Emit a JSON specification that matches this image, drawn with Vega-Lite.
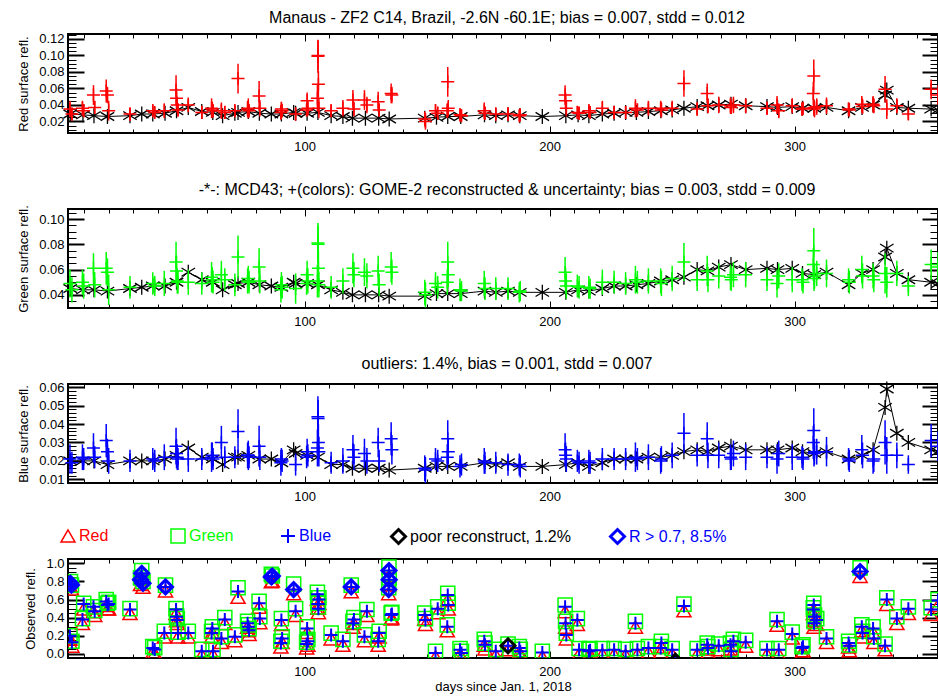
{
"$schema": "https://vega.github.io/schema/vega-lite/v6.json",
"background": "white",
"padding": {"left": 16, "top": 8, "right": 0, "bottom": 4},
"bounds": "flush",
"spacing": 76,
"resolve": {"scale": {"color": "independent", "shape": "independent"}, "legend": {"color": "independent", "shape": "independent"}},
"config": {
 "font": "Liberation Sans",
 "view": {"stroke": "black", "strokeWidth": 2},
 "axis": {"grid": false, "domain": false, "labelFont": "Liberation Sans", "labelFontSize": 13, "labelColor": "black", "titleFont": "Liberation Sans", "titleFontSize": 13, "titleFontWeight": "normal", "titleColor": "black", "tickColor": "black"},
 "legend": {"title": null, "orient": "none", "legendY": -31, "labelFontSize": 16, "labelFont": "Liberation Sans", "labelLimit": 400, "symbolSize": 196, "labelOffset": 3, "symbolStrokeWidth": 1.5},
 "title": {"font": "Liberation Sans", "fontSize": 16, "fontWeight": "normal", "color": "black", "offset": 7, "frame": "group", "dx": 4}
},
"datasets": {
 "mcd": [
{"d":4.3,"mr":0.029,"mg":0.045,"mb":0.020},{"d":9.5,"mr":0.028,"mg":0.044,"mb":0.020},{"d":14,"mr":0.027,"mg":0.044,"mb":0.020},{"d":19.5,"mr":0.026,"mg":0.043,"mb":0.018},{"d":28.7,"mr":0.027,"mg":0.045,"mb":0.020},{"d":33.5,"mr":0.029,"mg":0.046,"mb":0.020},{"d":38,"mr":0.029,"mg":0.047,"mb":0.020},{"d":43,"mr":0.030,"mg":0.047,"mb":0.021},{"d":47.7,"mr":0.033,"mg":0.050,"mb":0.023},{"d":52.5,"mr":0.037,"mg":0.058,"mb":0.027},{"d":58,"mr":0.032,"mg":0.052,"mb":0.022},{"d":62.5,"mr":0.031,"mg":0.050,"mb":0.021},{"d":66.5,"mr":0.027,"mg":0.044,"mb":0.018},{"d":71.5,"mr":0.030,"mg":0.048,"mb":0.022},{"d":72.8,"mr":0.031,"mg":0.049,"mb":0.022},{"d":77,"mr":0.032,"mg":0.050,"mb":0.023},{"d":81.5,"mr":0.030,"mg":0.048,"mb":0.021},{"d":86.4,"mr":0.029,"mg":0.047,"mb":0.021},{"d":90.5,"mr":0.029,"mg":0.046,"mb":0.019},{"d":95.5,"mr":0.031,"mg":0.050,"mb":0.026},{"d":96.3,"mr":0.030,"mg":0.049,"mb":0.024},{"d":101,"mr":0.030,"mg":0.049,"mb":0.023},{"d":105.4,"mr":0.031,"mg":0.048,"mb":0.022},{"d":110.8,"mr":0.027,"mg":0.044,"mb":0.018},{"d":115.6,"mr":0.026,"mg":0.042,"mb":0.018},{"d":119.5,"mr":0.024,"mg":0.040,"mb":0.016},{"d":124.8,"mr":0.024,"mg":0.040,"mb":0.016},{"d":130.2,"mr":0.024,"mg":0.040,"mb":0.016},{"d":134.5,"mr":0.023,"mg":0.039,"mb":0.015},{"d":149,"mr":0.024,"mg":0.039,"mb":0.016},{"d":153.8,"mr":0.025,"mg":0.041,"mb":0.017},{"d":158.4,"mr":0.026,"mg":0.041,"mb":0.017},{"d":163.7,"mr":0.026,"mg":0.041,"mb":0.017},{"d":173.4,"mr":0.028,"mg":0.043,"mb":0.019},{"d":178,"mr":0.027,"mg":0.042,"mb":0.018},{"d":183,"mr":0.028,"mg":0.043,"mb":0.019},{"d":187.8,"mr":0.027,"mg":0.042,"mb":0.017},{"d":197,"mr":0.026,"mg":0.042,"mb":0.017},{"d":206.6,"mr":0.027,"mg":0.042,"mb":0.018},{"d":211.6,"mr":0.028,"mg":0.044,"mb":0.019},{"d":216,"mr":0.027,"mg":0.043,"mb":0.017},{"d":221.5,"mr":0.029,"mg":0.045,"mb":0.019},{"d":226.3,"mr":0.030,"mg":0.047,"mb":0.021},{"d":231,"mr":0.031,"mg":0.047,"mb":0.021},{"d":235.4,"mr":0.031,"mg":0.048,"mb":0.021},{"d":240.3,"mr":0.032,"mg":0.049,"mb":0.022},{"d":245.4,"mr":0.033,"mg":0.051,"mb":0.022},{"d":250,"mr":0.034,"mg":0.052,"mb":0.023},{"d":254.8,"mr":0.036,"mg":0.054,"mb":0.025},{"d":260.2,"mr":0.038,"mg":0.060,"mb":0.026},{"d":264.4,"mr":0.039,"mg":0.059,"mb":0.025},{"d":269,"mr":0.040,"mg":0.062,"mb":0.027},{"d":274,"mr":0.041,"mg":0.064,"mb":0.028},{"d":280,"mr":0.039,"mg":0.060,"mb":0.026},{"d":288.7,"mr":0.038,"mg":0.061,"mb":0.026},{"d":293,"mr":0.037,"mg":0.060,"mb":0.026},{"d":299,"mr":0.038,"mg":0.061,"mb":0.027},{"d":303.2,"mr":0.036,"mg":0.057,"mb":0.025},{"d":308,"mr":0.036,"mg":0.056,"mb":0.024},{"d":313,"mr":0.037,"mg":0.058,"mb":0.025},{"d":322,"mr":0.033,"mg":0.048,"mb":0.021},{"d":327.5,"mr":0.037,"mg":0.057,"mb":0.023},{"d":332,"mr":0.040,"mg":0.060,"mb":0.026},{"d":336.9,"mr":0.052,"mg":0.070,"mb":0.049},{"d":337.6,"mr":0.058,"mg":0.077,"mb":0.059},{"d":341.7,"mr":0.037,"mg":0.057,"mb":0.035},{"d":346.4,"mr":0.036,"mg":0.052,"mb":0.030},{"d":355.7,"mr":0.035,"mg":0.050,"mb":0.026},{"d":358.5,"mr":0.034,"mg":0.049,"mb":0.025}
 ],
 "obs": [
{"d":4.2,"Red":0.2,"Green":0.2,"Blue":0.2,"r":0.035,"er":0.01,"g":0.049,"eg":0.011,"b":0.021,"eb":0.008},
{"d":5.0,"Red":0.12,"Green":0.14,"Blue":0.13,"r":0.029,"er":0.008,"g":0.044,"eg":0.01,"b":0.019,"eb":0.006},
{"d":4.4,"Red":0.78,"Green":0.8,"Blue":0.78,"f":"R"},
{"d":4.8,"Red":0.75,"Green":0.76,"Blue":0.76,"f":"R"},
{"d":9.3,"Red":0.37,"Green":0.39,"Blue":0.38,"r":0.036,"er":0.009,"g":0.05,"eg":0.01,"b":0.022,"eb":0.007},
{"d":9.8,"Red":0.53,"Green":0.56,"Blue":0.55,"r":0.033,"er":0.008,"g":0.047,"eg":0.01,"b":0.021,"eb":0.006},
{"d":13.8,"Red":0.5,"Green":0.52,"Blue":0.52,"r":0.052,"er":0.012,"g":0.061,"eg":0.012,"b":0.027,"eb":0.008},
{"d":14.3,"Red":0.46,"Green":0.48,"Blue":0.47,"r":0.037,"er":0.008,"g":0.048,"eg":0.01,"b":0.022,"eb":0.006},
{"d":19.0,"Red":0.57,"Green":0.6,"Blue":0.58,"r":0.057,"er":0.014,"g":0.061,"eg":0.013,"b":0.031,"eb":0.009},
{"d":19.5,"Red":0.53,"Green":0.56,"Blue":0.54,"r":0.052,"er":0.01,"g":0.058,"eg":0.011,"b":0.025,"eb":0.007},
{"d":20.0,"Red":0.53,"Green":0.57,"Blue":0.55,"r":0.033,"er":0.012,"g":0.044,"eg":0.012,"b":0.02,"eb":0.007},
{"d":28.7,"Red":0.48,"Green":0.5,"Blue":0.49,"r":0.029,"er":0.008,"g":0.046,"eg":0.009,"b":0.02,"eb":0.006},
{"d":33.0,"Red":0.8,"Green":0.84,"Blue":0.82,"f":"R"},
{"d":33.5,"Red":0.87,"Green":0.92,"Blue":0.89,"f":"R"},
{"d":34.0,"Red":0.77,"Green":0.8,"Blue":0.78,"f":"R"},
{"d":38.0,"Red":0.05,"Green":0.08,"Blue":0.065,"r":0.033,"er":0.008,"g":0.049,"eg":0.009,"b":0.021,"eb":0.006},
{"d":38.8,"Red":0.04,"Green":0.07,"Blue":0.05,"r":0.031,"er":0.007,"g":0.047,"eg":0.008,"b":0.02,"eb":0.006},
{"d":42.7,"Red":0.22,"Green":0.25,"Blue":0.23,"r":0.033,"er":0.009,"g":0.049,"eg":0.01,"b":0.022,"eb":0.007},
{"d":43.2,"Red":0.73,"Green":0.76,"Blue":0.74,"f":"R"},
{"d":47.5,"Red":0.48,"Green":0.5,"Blue":0.49,"r":0.058,"er":0.018,"g":0.066,"eg":0.016,"b":0.028,"eb":0.01},
{"d":47.7,"Red":0.4,"Green":0.42,"Blue":0.41,"r":0.048,"er":0.012,"g":0.059,"eg":0.012,"b":0.024,"eb":0.008},
{"d":48.0,"Red":0.37,"Green":0.39,"Blue":0.375,"r":0.04,"er":0.01,"g":0.051,"eg":0.01,"b":0.022,"eb":0.007},
{"d":48.3,"Red":0.22,"Green":0.24,"Blue":0.23,"r":0.034,"er":0.008,"g":0.05,"eg":0.009,"b":0.021,"eb":0.006},
{"d":52.5,"Red":0.22,"Green":0.25,"Blue":0.23,"r":0.04,"er":0.009,"g":0.05,"eg":0.01,"b":0.021,"eb":0.007},
{"d":58.0,"Red":0.02,"Green":0.05,"Blue":0.03,"r":0.031,"er":0.008,"g":0.049,"eg":0.009,"b":0.021,"eb":0.006},
{"d":62.0,"Red":0.22,"Green":0.25,"Blue":0.23,"r":0.036,"er":0.012,"g":0.054,"eg":0.012,"b":0.022,"eb":0.008},
{"d":62.3,"Red":0.27,"Green":0.3,"Blue":0.28,"r":0.035,"er":0.009,"g":0.052,"eg":0.01,"b":0.023,"eb":0.007},
{"d":62.6,"Red":0.02,"Green":0.05,"Blue":0.03,"r":0.033,"er":0.008,"g":0.05,"eg":0.009,"b":0.021,"eb":0.006},
{"d":66.0,"Red":0.16,"Green":0.19,"Blue":0.17,"r":0.033,"er":0.01,"g":0.056,"eg":0.011,"b":0.03,"eb":0.009},
{"d":67.4,"Red":0.37,"Green":0.4,"Blue":0.38,"r":0.031,"er":0.008,"g":0.052,"eg":0.009,"b":0.022,"eb":0.006},
{"d":71.5,"Red":0.18,"Green":0.21,"Blue":0.19,"r":0.033,"er":0.008,"g":0.048,"eg":0.009,"b":0.022,"eb":0.006},
{"d":72.8,"Red":0.66,"Green":0.73,"Blue":0.69,"r":0.072,"er":0.018,"g":0.07,"eg":0.017,"b":0.036,"eb":0.012},
{"d":76.7,"Red":0.33,"Green":0.36,"Blue":0.34,"r":0.035,"er":0.01,"g":0.051,"eg":0.01,"b":0.023,"eb":0.007},
{"d":77.0,"Red":0.29,"Green":0.32,"Blue":0.3,"r":0.036,"er":0.012,"g":0.053,"eg":0.01,"b":0.023,"eb":0.008},
{"d":77.3,"Red":0.25,"Green":0.28,"Blue":0.26,"r":0.033,"er":0.008,"g":0.05,"eg":0.009,"b":0.022,"eb":0.006},
{"d":81.4,"Red":0.55,"Green":0.58,"Blue":0.56,"r":0.051,"er":0.018,"g":0.062,"eg":0.015,"b":0.028,"eb":0.011},
{"d":81.7,"Red":0.38,"Green":0.41,"Blue":0.39,"r":0.036,"er":0.01,"g":0.051,"eg":0.01,"b":0.022,"eb":0.007},
{"d":86.4,"Red":0.83,"Green":0.88,"Blue":0.85,"f":"R"},
{"d":86.8,"Red":0.84,"Green":0.86,"Blue":0.86,"f":"R"},
{"d":90.3,"Red":0.11,"Green":0.14,"Blue":0.12,"r":0.031,"er":0.009,"g":0.044,"eg":0.01,"b":0.019,"eb":0.007},
{"d":90.5,"Red":0.36,"Green":0.39,"Blue":0.375,"r":0.035,"er":0.009,"g":0.048,"eg":0.01,"b":0.021,"eb":0.006},
{"d":90.8,"Red":0.16,"Green":0.19,"Blue":0.17,"r":0.033,"er":0.008,"g":0.046,"eg":0.009,"b":0.02,"eb":0.006},
{"d":95.5,"Red":0.7,"Green":0.77,"Blue":0.71,"f":"R"},
{"d":96.3,"Red":0.46,"Green":0.5,"Blue":0.47,"r":0.029,"er":0.008,"g":0.045,"eg":0.012,"b":0.018,"eb":0.006},
{"d":100.8,"Red":0.1,"Green":0.13,"Blue":0.11,"r":0.034,"er":0.008,"g":0.049,"eg":0.009,"b":0.022,"eb":0.006},
{"d":101.0,"Red":0.27,"Green":0.3,"Blue":0.28,"r":0.045,"er":0.01,"g":0.056,"eg":0.011,"b":0.025,"eb":0.007},
{"d":101.3,"Red":0.13,"Green":0.16,"Blue":0.14,"r":0.036,"er":0.009,"g":0.051,"eg":0.01,"b":0.023,"eb":0.006},
{"d":105.2,"Red":0.64,"Green":0.68,"Blue":0.66,"r":0.048,"er":0.016,"g":0.051,"eg":0.013,"b":0.027,"eb":0.01},
{"d":105.4,"Red":0.54,"Green":0.57,"Blue":0.55,"r":0.099,"er":0.02,"g":0.081,"eg":0.016,"b":0.044,"eb":0.011},
{"d":105.5,"Red":0.54,"Green":0.56,"Blue":0.55,"r":0.1,"er":0.018,"g":0.08,"eg":0.015,"b":0.043,"eb":0.01},
{"d":105.6,"Red":0.49,"Green":0.52,"Blue":0.5,"r":0.065,"er":0.016,"g":0.061,"eg":0.014,"b":0.03,"eb":0.01},
{"d":105.8,"Red":0.59,"Green":0.62,"Blue":0.6,"r":0.036,"er":0.012,"g":0.048,"eg":0.01,"b":0.025,"eb":0.008},
{"d":110.8,"Red":0.2,"Green":0.23,"Blue":0.21,"r":0.033,"er":0.008,"g":0.046,"eg":0.009,"b":0.019,"eb":0.006},
{"d":115.6,"Red":0.13,"Green":0.16,"Blue":0.14,"r":0.036,"er":0.01,"g":0.051,"eg":0.01,"b":0.02,"eb":0.007},
{"d":119.0,"Red":0.72,"Green":0.76,"Blue":0.74,"f":"R"},
{"d":119.7,"Red":0.33,"Green":0.36,"Blue":0.34,"r":0.046,"er":0.012,"g":0.061,"eg":0.012,"b":0.026,"eb":0.008},
{"d":120.1,"Red":0.37,"Green":0.4,"Blue":0.38,"r":0.035,"er":0.009,"g":0.056,"eg":0.01,"b":0.022,"eb":0.007},
{"d":124.4,"Red":0.18,"Green":0.21,"Blue":0.19,"r":0.046,"er":0.012,"g":0.058,"eg":0.011,"b":0.024,"eb":0.008},
{"d":125.4,"Red":0.46,"Green":0.49,"Blue":0.47,"r":0.04,"er":0.01,"g":0.055,"eg":0.01,"b":0.02,"eb":0.007},
{"d":130.0,"Red":0.13,"Green":0.16,"Blue":0.14,"r":0.044,"er":0.012,"g":0.059,"eg":0.012,"b":0.03,"eb":0.008},
{"d":130.4,"Red":0.22,"Green":0.25,"Blue":0.23,"r":0.034,"er":0.008,"g":0.048,"eg":0.009,"b":0.02,"eb":0.006},
{"d":134.3,"Red":0.7,"Green":0.73,"Blue":0.71,"f":"R"},
{"d":134.4,"Red":0.9,"Green":0.96,"Blue":0.92,"f":"R"},
{"d":134.5,"Red":0.8,"Green":0.84,"Blue":0.82,"f":"R"},
{"d":135.3,"Red":0.42,"Green":0.45,"Blue":0.43,"r":0.054,"er":0.012,"g":0.062,"eg":0.012,"b":0.032,"eb":0.009},
{"d":135.6,"Red":0.43,"Green":0.46,"Blue":0.44,"r":0.052,"er":0.01,"g":0.058,"eg":0.01,"b":0.026,"eb":0.008},
{"d":149.0,"Red":0.42,"Green":0.45,"Blue":0.43,"r":0.023,"er":0.009,"g":0.042,"eg":0.01,"b":0.016,"eb":0.007},
{"d":149.3,"Red":0.36,"Green":0.39,"Blue":0.375,"r":0.02,"er":0.01,"g":0.04,"eg":0.01,"b":0.015,"eb":0.007},
{"d":153.4,"Red":0.0,"Green":0.03,"Blue":0.01,"r":0.033,"er":0.008,"g":0.049,"eg":0.009,"b":0.021,"eb":0.006},
{"d":154.3,"Red":0.49,"Green":0.52,"Blue":0.5,"r":0.03,"er":0.008,"g":0.046,"eg":0.009,"b":0.02,"eb":0.006},
{"d":158.2,"Red":0.29,"Green":0.32,"Blue":0.3,"r":0.033,"er":0.009,"g":0.05,"eg":0.01,"b":0.022,"eb":0.007},
{"d":158.4,"Red":0.63,"Green":0.67,"Blue":0.65,"r":0.068,"er":0.018,"g":0.066,"eg":0.016,"b":0.032,"eb":0.01},
{"d":158.6,"Red":0.53,"Green":0.56,"Blue":0.54,"r":0.036,"er":0.01,"g":0.056,"eg":0.01,"b":0.025,"eb":0.007},
{"d":163.4,"Red":0.03,"Green":0.06,"Blue":0.045,"r":0.028,"er":0.008,"g":0.044,"eg":0.009,"b":0.017,"eb":0.006},
{"d":164.0,"Red":0.0,"Green":0.03,"Blue":0.01,"r":0.027,"er":0.007,"g":0.043,"eg":0.008,"b":0.018,"eb":0.006},
{"d":173.3,"Red":0.13,"Green":0.16,"Blue":0.14,"r":0.033,"er":0.01,"g":0.049,"eg":0.01,"b":0.02,"eb":0.007},
{"d":173.6,"Red":0.09,"Green":0.12,"Blue":0.1,"r":0.03,"er":0.008,"g":0.045,"eg":0.009,"b":0.019,"eb":0.006},
{"d":178.0,"Red":0.02,"Green":0.05,"Blue":0.03,"r":0.029,"er":0.008,"g":0.045,"eg":0.009,"b":0.019,"eb":0.006},
{"d":183.0,"Red":0.08,"Green":0.11,"Blue":0.09,"f":"P","r":0.029,"er":0.008,"g":0.045,"eg":0.009,"b":0.018,"eb":0.006},
{"d":187.6,"Red":0.05,"Green":0.08,"Blue":0.065,"r":0.027,"er":0.007,"g":0.042,"eg":0.008,"b":0.018,"eb":0.006},
{"d":188.0,"Red":0.02,"Green":0.05,"Blue":0.03,"r":0.028,"er":0.007,"g":0.043,"eg":0.008,"b":0.017,"eb":0.006},
{"d":197.0,"Red":0.0,"Green":0.03,"Blue":0.015},
{"d":206.3,"Red":0.5,"Green":0.54,"Blue":0.52,"r":0.052,"er":0.012,"g":0.058,"eg":0.012,"b":0.026,"eb":0.009},
{"d":206.5,"Red":0.33,"Green":0.36,"Blue":0.34,"r":0.045,"er":0.01,"g":0.051,"eg":0.01,"b":0.023,"eb":0.007},
{"d":206.8,"Red":0.2,"Green":0.23,"Blue":0.21,"r":0.036,"er":0.01,"g":0.047,"eg":0.01,"b":0.021,"eb":0.007},
{"d":211.3,"Red":0.36,"Green":0.39,"Blue":0.375,"r":0.031,"er":0.008,"g":0.047,"eg":0.009,"b":0.02,"eb":0.006},
{"d":212.0,"Red":0.03,"Green":0.06,"Blue":0.045,"r":0.03,"er":0.008,"g":0.046,"eg":0.009,"b":0.019,"eb":0.006},
{"d":216.0,"Red":0.02,"Green":0.05,"Blue":0.03,"r":0.033,"er":0.008,"g":0.046,"eg":0.009,"b":0.02,"eb":0.006},
{"d":216.5,"Red":0.03,"Green":0.06,"Blue":0.04,"r":0.031,"er":0.007,"g":0.045,"eg":0.008,"b":0.019,"eb":0.006},
{"d":221.5,"Red":0.03,"Green":0.06,"Blue":0.04,"r":0.036,"er":0.009,"g":0.05,"eg":0.01,"b":0.021,"eb":0.006},
{"d":226.3,"Red":0.03,"Green":0.06,"Blue":0.045,"r":0.031,"er":0.008,"g":0.05,"eg":0.009,"b":0.021,"eb":0.006},
{"d":231.0,"Red":0.02,"Green":0.05,"Blue":0.03,"r":0.031,"er":0.008,"g":0.049,"eg":0.009,"b":0.021,"eb":0.006},
{"d":235.0,"Red":0.33,"Green":0.36,"Blue":0.34,"r":0.036,"er":0.011,"g":0.052,"eg":0.011,"b":0.022,"eb":0.008},
{"d":235.8,"Red":0.03,"Green":0.06,"Blue":0.045,"r":0.034,"er":0.008,"g":0.05,"eg":0.009,"b":0.021,"eb":0.006},
{"d":240.3,"Red":0.05,"Green":0.08,"Blue":0.065,"r":0.036,"er":0.009,"g":0.051,"eg":0.01,"b":0.022,"eb":0.007},
{"d":245.3,"Red":0.05,"Green":0.08,"Blue":0.065,"r":0.036,"er":0.009,"g":0.051,"eg":0.01,"b":0.02,"eb":0.007},
{"d":245.6,"Red":0.11,"Green":0.14,"Blue":0.12,"r":0.034,"er":0.009,"g":0.049,"eg":0.01,"b":0.021,"eb":0.007},
{"d":250.0,"Red":0.03,"Green":0.06,"Blue":0.045,"r":0.036,"er":0.009,"g":0.053,"eg":0.01,"b":0.023,"eb":0.007},
{"d":251.3,"Blue":-0.08,"f":"P"},
{"d":254.8,"Red":0.51,"Green":0.55,"Blue":0.53,"r":0.066,"er":0.016,"g":0.066,"eg":0.015,"b":0.035,"eb":0.011},
{"d":260.2,"Red":0.03,"Green":0.06,"Blue":0.045,"r":0.035,"er":0.008,"g":0.052,"eg":0.009,"b":0.023,"eb":0.006},
{"d":264.3,"Red":0.09,"Green":0.12,"Blue":0.1,"r":0.054,"er":0.012,"g":0.059,"eg":0.012,"b":0.032,"eb":0.009},
{"d":264.6,"Red":0.05,"Green":0.08,"Blue":0.065,"r":0.039,"er":0.009,"g":0.052,"eg":0.01,"b":0.023,"eb":0.007},
{"d":269.0,"Red":0.08,"Green":0.11,"Blue":0.09,"r":0.04,"er":0.01,"g":0.055,"eg":0.01,"b":0.023,"eb":0.007},
{"d":273.8,"Red":0.09,"Green":0.12,"Blue":0.1,"r":0.039,"er":0.01,"g":0.054,"eg":0.01,"b":0.022,"eb":0.007},
{"d":274.1,"Red":0.02,"Green":0.05,"Blue":0.03,"r":0.037,"er":0.008,"g":0.052,"eg":0.009,"b":0.021,"eb":0.006},
{"d":275.0,"Red":0.13,"Green":0.16,"Blue":0.14,"r":0.04,"er":0.01,"g":0.056,"eg":0.01,"b":0.024,"eb":0.007},
{"d":280.0,"Red":0.12,"Green":0.15,"Blue":0.13,"r":0.039,"er":0.009,"g":0.056,"eg":0.01,"b":0.022,"eb":0.007},
{"d":288.7,"Red":0.03,"Green":0.06,"Blue":0.045,"r":0.036,"er":0.008,"g":0.052,"eg":0.009,"b":0.022,"eb":0.006},
{"d":292.8,"Red":0.35,"Green":0.38,"Blue":0.36,"r":0.04,"er":0.011,"g":0.049,"eg":0.011,"b":0.021,"eb":0.008},
{"d":293.5,"Red":0.03,"Green":0.06,"Blue":0.045,"r":0.033,"er":0.009,"g":0.055,"eg":0.01,"b":0.024,"eb":0.007},
{"d":299.0,"Red":0.21,"Green":0.24,"Blue":0.22,"r":0.039,"er":0.009,"g":0.052,"eg":0.01,"b":0.022,"eb":0.007},
{"d":303.0,"Red":0.05,"Green":0.08,"Blue":0.065,"r":0.035,"er":0.008,"g":0.052,"eg":0.009,"b":0.022,"eb":0.006},
{"d":303.4,"Red":0.07,"Green":0.1,"Blue":0.08,"r":0.036,"er":0.008,"g":0.05,"eg":0.009,"b":0.021,"eb":0.006},
{"d":307.6,"Red":0.48,"Green":0.51,"Blue":0.49,"r":0.054,"er":0.014,"g":0.064,"eg":0.013,"b":0.03,"eb":0.009},
{"d":307.8,"Red":0.52,"Green":0.56,"Blue":0.54,"r":0.075,"er":0.02,"g":0.075,"eg":0.018,"b":0.0365,"eb":0.012},
{"d":307.9,"Red":0.33,"Green":0.36,"Blue":0.34,"r":0.037,"er":0.01,"g":0.053,"eg":0.01,"b":0.024,"eb":0.007},
{"d":308.1,"Red":0.4,"Green":0.43,"Blue":0.41,"r":0.035,"er":0.01,"g":0.055,"eg":0.01,"b":0.025,"eb":0.007},
{"d":309.0,"Red":0.36,"Green":0.39,"Blue":0.375,"r":0.038,"er":0.01,"g":0.057,"eg":0.01,"b":0.025,"eb":0.007},
{"d":313.0,"Red":0.16,"Green":0.19,"Blue":0.17,"r":0.039,"er":0.01,"g":0.057,"eg":0.011,"b":0.025,"eb":0.008},
{"d":322.0,"Red":0.11,"Green":0.14,"Blue":0.12,"r":0.035,"er":0.008,"g":0.052,"eg":0.009,"b":0.021,"eb":0.006},
{"d":322.3,"Red":0.07,"Green":0.1,"Blue":0.09,"r":0.034,"er":0.008,"g":0.05,"eg":0.009,"b":0.02,"eb":0.006},
{"d":326.7,"Red":0.89,"Green":0.95,"Blue":0.91,"f":"R"},
{"d":327.4,"Red":0.29,"Green":0.32,"Blue":0.3,"r":0.041,"er":0.01,"g":0.06,"eg":0.011,"b":0.026,"eb":0.008},
{"d":327.7,"Red":0.22,"Green":0.25,"Blue":0.23,"r":0.038,"er":0.009,"g":0.055,"eg":0.01,"b":0.023,"eb":0.007},
{"d":332.0,"Red":0.27,"Green":0.3,"Blue":0.28,"r":0.041,"er":0.01,"g":0.055,"eg":0.01,"b":0.02,"eb":0.007},
{"d":332.3,"Red":0.16,"Green":0.19,"Blue":0.17,"r":0.039,"er":0.009,"g":0.052,"eg":0.01,"b":0.021,"eb":0.007},
{"d":336.9,"Red":0.08,"Green":0.11,"Blue":0.09,"r":0.059,"er":0.016,"g":0.057,"eg":0.016,"b":0.03,"eb":0.012},
{"d":337.6,"Red":0.58,"Green":0.62,"Blue":0.6,"r":0.035,"er":0.012,"g":0.05,"eg":0.012,"b":0.023,"eb":0.01},
{"d":341.7,"Red":0.37,"Green":0.41,"Blue":0.39,"r":0.039,"er":0.009,"g":0.057,"eg":0.01,"b":0.023,"eb":0.007},
{"d":346.4,"Red":0.48,"Green":0.52,"Blue":0.5,"r":0.029,"er":0.007,"g":0.047,"eg":0.008,"b":0.018,"eb":0.005},
{"d":355.7,"Red":0.47,"Green":0.51,"Blue":0.49,"r":0.059,"er":0.012,"g":0.064,"eg":0.012,"b":0.031,"eb":0.009},
{"d":358.5,"Red":0.57,"Green":0.6,"Blue":0.59,"r":0.052,"er":0.012,"g":0.062,"eg":0.012,"b":0.028,"eb":0.008}
 ]
},
"vconcat": [
{
 "width": 870, "height": 99,
 "title": {"text": "Manaus - ZF2 C14, Brazil,  -2.6N  -60.1E; bias =  0.007, stdd =  0.012"},
 "resolve": {"axis": {"x": "independent", "y": "independent"}},
 "layer": [
  {"data": {"name": "mcd"}, "mark": {"type": "line", "color": "black", "strokeWidth": 1},
   "encoding": {
    "x": {"field": "d", "type": "quantitative", "scale": {"domain": [3.4, 358.5], "nice": false, "zero": false}, "axis": {"orient": "bottom", "values": [100, 200, 300], "ticks": false, "labelPadding": 7, "title": null, "format": "d"}},
    "y": {"field": "mr", "type": "quantitative", "scale": {"domain": [0.006, 0.126], "nice": false, "zero": false}, "axis": {"orient": "left", "values": [0.02, 0.04, 0.06, 0.08, 0.1, 0.12], "format": ".2f", "ticks": false, "labelPadding": 4, "title": "Red surface refl.", "titlePadding": 8}}}},
  {"data": {"name": "mcd"}, "mark": {"type": "point", "shape": "M0,-1L0,1M-0.9,-0.55L0.9,0.55M-0.9,0.55L0.9,-0.55", "filled": false, "stroke": "black", "strokeWidth": 1.3, "size": 225, "opacity": 1},
   "encoding": {
    "x": {"field": "d", "type": "quantitative", "scale": {"domain": [3.4, 358.5], "nice": false, "zero": false}, "axis": {"orient": "bottom", "values": [10,20,30,40,50,60,70,80,90,100,110,120,130,140,150,160,170,180,190,200,210,220,230,240,250,260,270,280,290,300,310,320,330,340,350], "labels": false, "title": null, "tickSize": {"condition": {"test": "datum.value % 100 === 0", "value": -7}, "value": -4}, "tickWidth": 1}},
    "y": {"field": "mr", "type": "quantitative", "scale": {"domain": [0.006, 0.126], "nice": false, "zero": false}, "axis": {"orient": "left", "values": [0.01,0.015,0.02,0.025,0.03,0.035,0.04,0.045,0.05,0.055,0.06,0.065,0.07,0.075,0.08,0.085,0.09,0.095,0.1,0.105,0.11,0.115,0.12,0.125], "labels": false, "title": null, "tickSize": {"condition": {"test": "abs(datum.value*50-round(datum.value*50))<0.01", "value": -16}, "value": -8}, "tickWidth": {"condition": {"test": "abs(datum.value*50-round(datum.value*50))<0.01", "value": 2}, "value": 1}}}}},
  {"data": {"name": "obs"}, "transform": [{"filter": "isValid(datum.r)"}], "mark": {"type": "errorbar", "color": "#ff0000", "thickness": 1.5},
   "encoding": {
    "x": {"field": "d", "type": "quantitative", "scale": {"domain": [3.4, 358.5], "nice": false, "zero": false}, "axis": {"orient": "top", "values": [10,20,30,40,50,60,70,80,90,100,110,120,130,140,150,160,170,180,190,200,210,220,230,240,250,260,270,280,290,300,310,320,330,340,350], "labels": false, "title": null, "tickSize": {"condition": {"test": "datum.value % 100 === 0", "value": -7}, "value": -4}, "tickWidth": 1}},
    "y": {"field": "r", "type": "quantitative", "scale": {"domain": [0.006, 0.126], "nice": false, "zero": false}, "axis": {"orient": "right", "values": [0.01,0.015,0.02,0.025,0.03,0.035,0.04,0.045,0.05,0.055,0.06,0.065,0.07,0.075,0.08,0.085,0.09,0.095,0.1,0.105,0.11,0.115,0.12,0.125], "labels": false, "title": null, "tickSize": {"condition": {"test": "abs(datum.value*50-round(datum.value*50))<0.01", "value": -16}, "value": -8}, "tickWidth": {"condition": {"test": "abs(datum.value*50-round(datum.value*50))<0.01", "value": 2}, "value": 1}}},
    "yError": {"field": "er"}}},
  {"data": {"name": "obs"}, "transform": [{"filter": "isValid(datum.r)"}], "mark": {"type": "point", "shape": "M-1,0L1,0M0,-1L0,1", "filled": false, "stroke": "#ff0000", "strokeWidth": 1.5, "size": 169, "opacity": 1},
   "encoding": {"x": {"field": "d", "type": "quantitative", "axis": null}, "y": {"field": "r", "type": "quantitative", "axis": null}}}
 ]
},
{
 "width": 870, "height": 99,
 "title": {"text": "-*-: MCD43;   +(colors): GOME-2 reconstructed & uncertainty;  bias =  0.003, stdd =  0.009"},
 "resolve": {"axis": {"x": "independent", "y": "independent"}},
 "layer": [
  {"data": {"name": "mcd"}, "mark": {"type": "line", "color": "black", "strokeWidth": 1},
   "encoding": {
    "x": {"field": "d", "type": "quantitative", "scale": {"domain": [3.4, 358.5], "nice": false, "zero": false}, "axis": {"orient": "bottom", "values": [100, 200, 300], "ticks": false, "labelPadding": 7, "title": null, "format": "d"}},
    "y": {"field": "mg", "type": "quantitative", "scale": {"domain": [0.0296, 0.108], "nice": false, "zero": false}, "axis": {"orient": "left", "values": [0.04, 0.06, 0.08, 0.1], "format": ".2f", "ticks": false, "labelPadding": 4, "title": "Green surface refl.", "titlePadding": 8}}}},
  {"data": {"name": "mcd"}, "mark": {"type": "point", "shape": "M0,-1L0,1M-0.9,-0.55L0.9,0.55M-0.9,0.55L0.9,-0.55", "filled": false, "stroke": "black", "strokeWidth": 1.3, "size": 225, "opacity": 1},
   "encoding": {
    "x": {"field": "d", "type": "quantitative", "scale": {"domain": [3.4, 358.5], "nice": false, "zero": false}, "axis": {"orient": "bottom", "values": [10,20,30,40,50,60,70,80,90,100,110,120,130,140,150,160,170,180,190,200,210,220,230,240,250,260,270,280,290,300,310,320,330,340,350], "labels": false, "title": null, "tickSize": {"condition": {"test": "datum.value % 100 === 0", "value": -7}, "value": -4}, "tickWidth": 1}},
    "y": {"field": "mg", "type": "quantitative", "scale": {"domain": [0.0296, 0.108], "nice": false, "zero": false}, "axis": {"orient": "left", "values": [0.03,0.035,0.04,0.045,0.05,0.055,0.06,0.065,0.07,0.075,0.08,0.085,0.09,0.095,0.1,0.105], "labels": false, "title": null, "tickSize": {"condition": {"test": "abs(datum.value*50-round(datum.value*50))<0.01", "value": -16}, "value": -8}, "tickWidth": {"condition": {"test": "abs(datum.value*50-round(datum.value*50))<0.01", "value": 2}, "value": 1}}}}},
  {"data": {"name": "obs"}, "transform": [{"filter": "isValid(datum.g)"}], "mark": {"type": "errorbar", "color": "#00ff00", "thickness": 1.5},
   "encoding": {
    "x": {"field": "d", "type": "quantitative", "scale": {"domain": [3.4, 358.5], "nice": false, "zero": false}, "axis": {"orient": "top", "values": [10,20,30,40,50,60,70,80,90,100,110,120,130,140,150,160,170,180,190,200,210,220,230,240,250,260,270,280,290,300,310,320,330,340,350], "labels": false, "title": null, "tickSize": {"condition": {"test": "datum.value % 100 === 0", "value": -7}, "value": -4}, "tickWidth": 1}},
    "y": {"field": "g", "type": "quantitative", "scale": {"domain": [0.0296, 0.108], "nice": false, "zero": false}, "axis": {"orient": "right", "values": [0.03,0.035,0.04,0.045,0.05,0.055,0.06,0.065,0.07,0.075,0.08,0.085,0.09,0.095,0.1,0.105], "labels": false, "title": null, "tickSize": {"condition": {"test": "abs(datum.value*50-round(datum.value*50))<0.01", "value": -16}, "value": -8}, "tickWidth": {"condition": {"test": "abs(datum.value*50-round(datum.value*50))<0.01", "value": 2}, "value": 1}}},
    "yError": {"field": "eg"}}},
  {"data": {"name": "obs"}, "transform": [{"filter": "isValid(datum.g)"}], "mark": {"type": "point", "shape": "M-1,0L1,0M0,-1L0,1", "filled": false, "stroke": "#00ff00", "strokeWidth": 1.5, "size": 169, "opacity": 1},
   "encoding": {"x": {"field": "d", "type": "quantitative", "axis": null}, "y": {"field": "g", "type": "quantitative", "axis": null}}}
 ]
},
{
 "width": 870, "height": 99,
 "title": {"text": "outliers:  1.4%,  bias =  0.001, stdd =  0.007"},
 "resolve": {"axis": {"x": "independent", "y": "independent"}},
 "layer": [
  {"data": {"name": "mcd"}, "mark": {"type": "line", "color": "black", "strokeWidth": 1},
   "encoding": {
    "x": {"field": "d", "type": "quantitative", "scale": {"domain": [3.4, 358.5], "nice": false, "zero": false}, "axis": {"orient": "bottom", "values": [100, 200, 300], "ticks": false, "labelPadding": 7, "title": null, "format": "d"}},
    "y": {"field": "mb", "type": "quantitative", "scale": {"domain": [0.008, 0.0617], "nice": false, "zero": false}, "axis": {"orient": "left", "values": [0.01, 0.02, 0.03, 0.04, 0.05, 0.06], "format": ".2f", "ticks": false, "labelPadding": 4, "title": "Blue surface refl.", "titlePadding": 8}}}},
  {"data": {"name": "mcd"}, "mark": {"type": "point", "shape": "M0,-1L0,1M-0.9,-0.55L0.9,0.55M-0.9,0.55L0.9,-0.55", "filled": false, "stroke": "black", "strokeWidth": 1.3, "size": 225, "opacity": 1},
   "encoding": {
    "x": {"field": "d", "type": "quantitative", "scale": {"domain": [3.4, 358.5], "nice": false, "zero": false}, "axis": {"orient": "bottom", "values": [10,20,30,40,50,60,70,80,90,100,110,120,130,140,150,160,170,180,190,200,210,220,230,240,250,260,270,280,290,300,310,320,330,340,350], "labels": false, "title": null, "tickSize": {"condition": {"test": "datum.value % 100 === 0", "value": -7}, "value": -4}, "tickWidth": 1}},
    "y": {"field": "mb", "type": "quantitative", "scale": {"domain": [0.008, 0.0617], "nice": false, "zero": false}, "axis": {"orient": "left", "values": [0.01,0.012,0.014,0.016,0.018,0.02,0.022,0.024,0.026,0.028,0.03,0.032,0.034,0.036,0.038,0.04,0.042,0.044,0.046,0.048,0.05,0.052,0.054,0.056,0.058,0.06], "labels": false, "title": null, "tickSize": {"condition": {"test": "abs(datum.value*100-round(datum.value*100))<0.01", "value": -16}, "value": -8}, "tickWidth": {"condition": {"test": "abs(datum.value*100-round(datum.value*100))<0.01", "value": 2}, "value": 1}}}}},
  {"data": {"name": "obs"}, "transform": [{"filter": "isValid(datum.b)"}], "mark": {"type": "errorbar", "color": "#0000ff", "thickness": 1.5},
   "encoding": {
    "x": {"field": "d", "type": "quantitative", "scale": {"domain": [3.4, 358.5], "nice": false, "zero": false}, "axis": {"orient": "top", "values": [10,20,30,40,50,60,70,80,90,100,110,120,130,140,150,160,170,180,190,200,210,220,230,240,250,260,270,280,290,300,310,320,330,340,350], "labels": false, "title": null, "tickSize": {"condition": {"test": "datum.value % 100 === 0", "value": -7}, "value": -4}, "tickWidth": 1}},
    "y": {"field": "b", "type": "quantitative", "scale": {"domain": [0.008, 0.0617], "nice": false, "zero": false}, "axis": {"orient": "right", "values": [0.01,0.012,0.014,0.016,0.018,0.02,0.022,0.024,0.026,0.028,0.03,0.032,0.034,0.036,0.038,0.04,0.042,0.044,0.046,0.048,0.05,0.052,0.054,0.056,0.058,0.06], "labels": false, "title": null, "tickSize": {"condition": {"test": "abs(datum.value*100-round(datum.value*100))<0.01", "value": -16}, "value": -8}, "tickWidth": {"condition": {"test": "abs(datum.value*100-round(datum.value*100))<0.01", "value": 2}, "value": 1}}},
    "yError": {"field": "eb"}}},
  {"data": {"name": "obs"}, "transform": [{"filter": "isValid(datum.b)"}], "mark": {"type": "point", "shape": "M-1,0L1,0M0,-1L0,1", "filled": false, "stroke": "#0000ff", "strokeWidth": 1.5, "size": 169, "opacity": 1},
   "encoding": {"x": {"field": "d", "type": "quantitative", "axis": null}, "y": {"field": "b", "type": "quantitative", "axis": null}}}
 ]
},
{
 "width": 870, "height": 99,
 "resolve": {"axis": {"x": "independent", "y": "independent"}, "scale": {"color": "independent"}, "legend": {"color": "independent"}},
 "layer": [
  {"data": {"name": "obs"},
   "mark": {"type": "point", "shape": "triangle-up", "filled": false, "strokeWidth": 1.5, "size": 200, "opacity": 1, "clip": true, "yOffset": 3},
   "encoding": {
    "x": {"field": "d", "type": "quantitative", "scale": {"domain": [3.4, 358.5], "nice": false, "zero": false}, "axis": {"orient": "bottom", "values": [100, 200, 300], "ticks": false, "labelPadding": 7, "title": "days since Jan. 1, 2018", "titlePadding": 2, "format": "d"}},
    "y": {"field": "Red", "type": "quantitative", "scale": {"domain": [-0.045, 1.048], "nice": false, "zero": false}, "axis": {"orient": "left", "values": [0, 0.2, 0.4, 0.6, 0.8, 1.0], "format": ".1f", "ticks": false, "labelPadding": 4, "title": "Observed refl.", "titlePadding": 8}},
    "color": {"datum": "Red", "type": "nominal", "scale": {"range": ["#ff0000"]}, "legend": {"legendX": -8, "labelColor": "#ff0000", "symbolType": "triangle-up"}}}},
  {"data": {"name": "obs"},
   "mark": {"type": "point", "shape": "square", "filled": false, "strokeWidth": 1.5, "size": 200, "opacity": 1, "clip": true},
   "encoding": {
    "x": {"field": "d", "type": "quantitative", "scale": {"domain": [3.4, 358.5], "nice": false, "zero": false}, "axis": {"orient": "bottom", "values": [10,20,30,40,50,60,70,80,90,100,110,120,130,140,150,160,170,180,190,200,210,220,230,240,250,260,270,280,290,300,310,320,330,340,350], "labels": false, "title": null, "tickSize": {"condition": {"test": "datum.value % 100 === 0", "value": -7}, "value": -4}, "tickWidth": 1}},
    "y": {"field": "Green", "type": "quantitative", "scale": {"domain": [-0.045, 1.048], "nice": false, "zero": false}, "axis": {"orient": "left", "values": [0,0.05,0.1,0.15,0.2,0.25,0.3,0.35,0.4,0.45,0.5,0.55,0.6,0.65,0.7,0.75,0.8,0.85,0.9,0.95,1.0], "labels": false, "title": null, "tickSize": {"condition": {"test": "abs(datum.value*5-round(datum.value*5))<0.01", "value": -16}, "value": -8}, "tickWidth": {"condition": {"test": "abs(datum.value*5-round(datum.value*5))<0.01", "value": 2}, "value": 1}}},
    "color": {"datum": "Green", "type": "nominal", "scale": {"range": ["#00ff00"]}, "legend": {"legendX": 102, "labelColor": "#00ff00", "symbolType": "square"}}}},
  {"data": {"name": "obs"},
   "mark": {"type": "point", "shape": "M-1,0L1,0M0,-1L0,1", "filled": false, "strokeWidth": 2, "size": 169, "opacity": 1, "clip": true},
   "encoding": {
    "x": {"field": "d", "type": "quantitative", "scale": {"domain": [3.4, 358.5], "nice": false, "zero": false}, "axis": {"orient": "top", "values": [10,20,30,40,50,60,70,80,90,100,110,120,130,140,150,160,170,180,190,200,210,220,230,240,250,260,270,280,290,300,310,320,330,340,350], "labels": false, "title": null, "tickSize": {"condition": {"test": "datum.value % 100 === 0", "value": -7}, "value": -4}, "tickWidth": 1}},
    "y": {"field": "Blue", "type": "quantitative", "scale": {"domain": [-0.045, 1.048], "nice": false, "zero": false}, "axis": {"orient": "right", "values": [0,0.05,0.1,0.15,0.2,0.25,0.3,0.35,0.4,0.45,0.5,0.55,0.6,0.65,0.7,0.75,0.8,0.85,0.9,0.95,1.0], "labels": false, "title": null, "tickSize": {"condition": {"test": "abs(datum.value*5-round(datum.value*5))<0.01", "value": -16}, "value": -8}, "tickWidth": {"condition": {"test": "abs(datum.value*5-round(datum.value*5))<0.01", "value": 2}, "value": 1}}},
    "color": {"datum": "Blue", "type": "nominal", "scale": {"range": ["#0000ff"]}, "legend": {"legendX": 212, "labelColor": "#0000ff", "symbolType": "M-1,0L1,0M0,-1L0,1", "symbolStrokeWidth": 2}}}},
  {"data": {"name": "obs"}, "transform": [{"filter": "datum.f === 'R'"}],
   "mark": {"type": "point", "shape": "diamond", "filled": false, "strokeWidth": 3, "size": 196, "opacity": 1, "clip": true},
   "encoding": {
    "x": {"field": "d", "type": "quantitative", "axis": null},
    "y": {"field": "Blue", "type": "quantitative", "axis": null},
    "color": {"datum": "R > 0.7,  8.5%", "type": "nominal", "scale": {"range": ["#0000ff"]}, "legend": {"legendX": 541, "labelColor": "#0000ff", "symbolType": "diamond", "symbolStrokeWidth": 3}}}},
  {"data": {"name": "obs"}, "transform": [{"filter": "datum.f === 'P'"}],
   "mark": {"type": "point", "shape": "diamond", "filled": false, "strokeWidth": 3, "size": 196, "opacity": 1, "clip": true},
   "encoding": {
    "x": {"field": "d", "type": "quantitative", "axis": null},
    "y": {"field": "Blue", "type": "quantitative", "axis": null},
    "color": {"datum": "poor reconstruct,  1.2%", "type": "nominal", "scale": {"range": ["#000000"]}, "legend": {"legendX": 322, "labelColor": "#000000", "symbolType": "diamond", "symbolStrokeWidth": 3}}}}
 ]
}
]
}
